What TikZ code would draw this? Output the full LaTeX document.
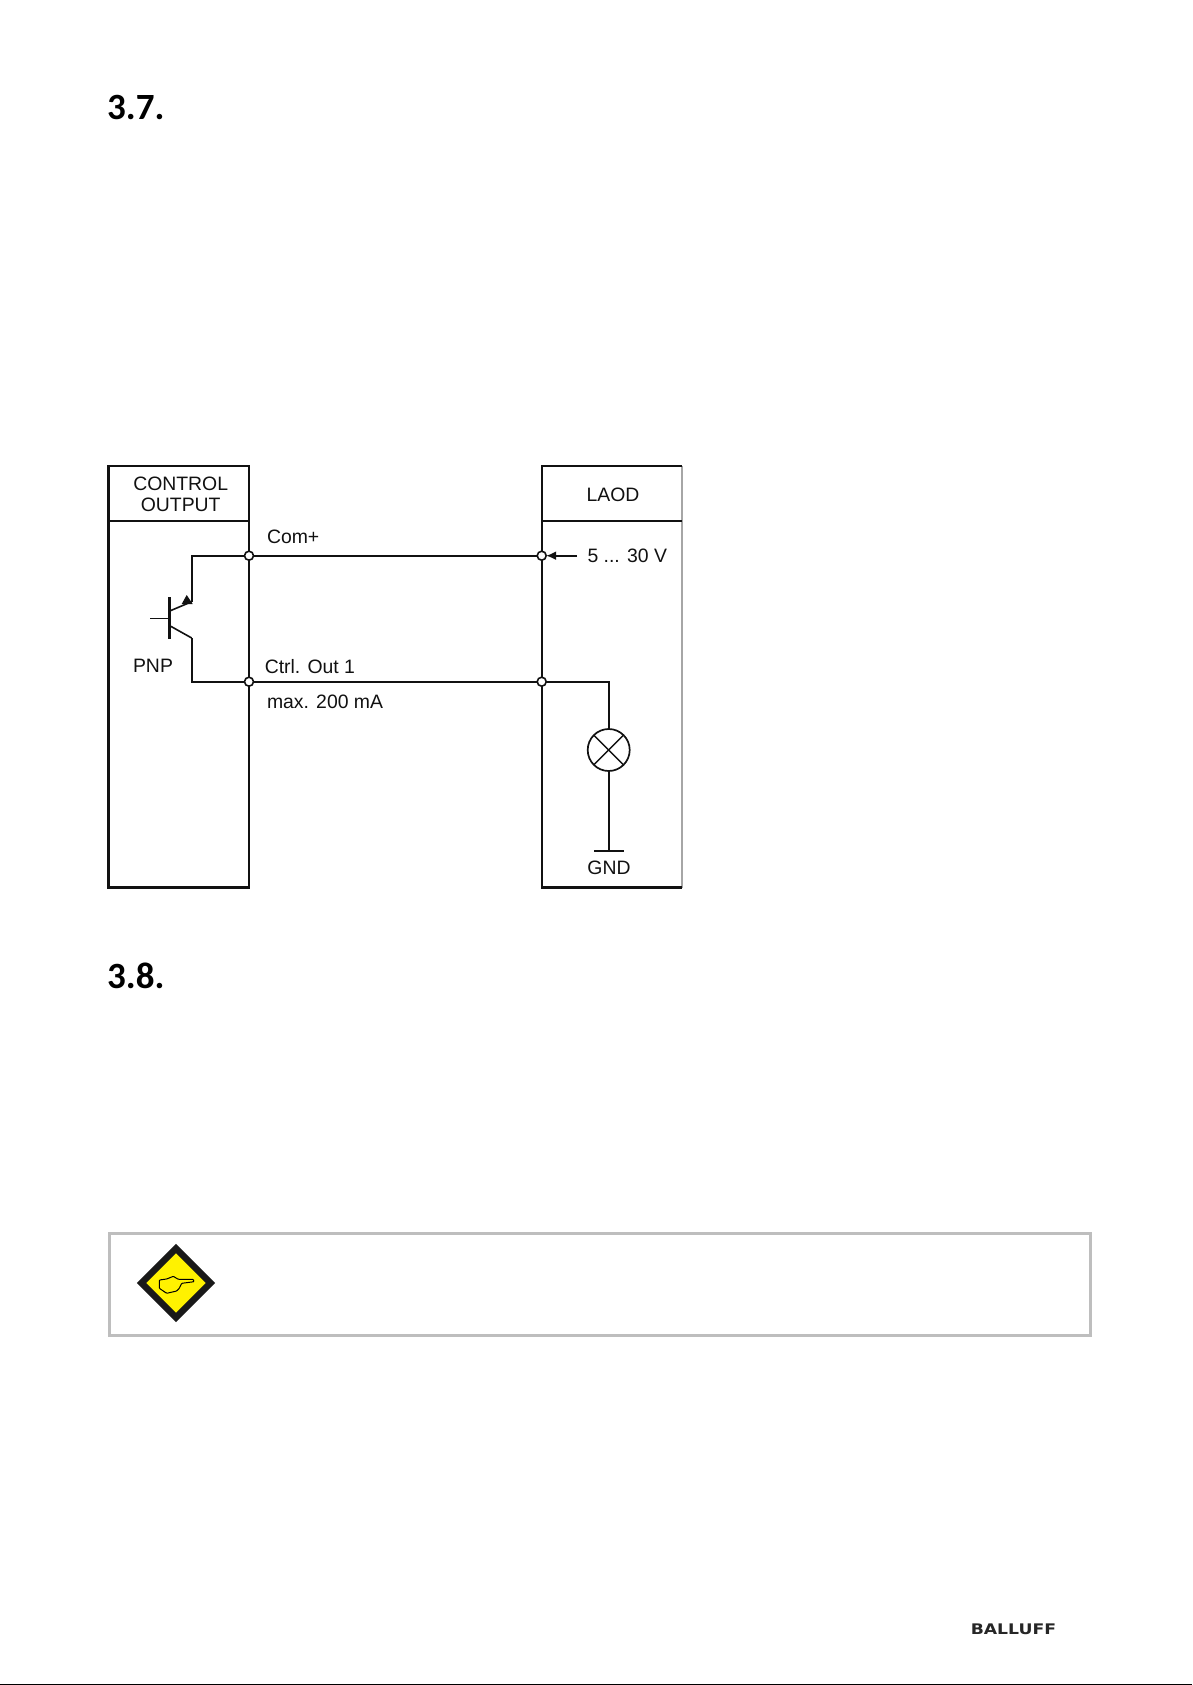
\documentclass[tikz,border=0pt]{standalone}
\usepackage{fontspec}
\setmainfont{Liberation Sans}
\newfontfamily\headfont{Carlito}
\newfontfamily\logofont{DejaVu Sans}
\usetikzlibrary{arrows.meta,shapes.geometric}
\definecolor{wirecol}{HTML}{111111}
\definecolor{notegray}{HTML}{BEBEBE}
\definecolor{noteyellow}{HTML}{FFF200}

\begin{document}
\begin{tikzpicture}[x=1pt,y=-1pt,
  wire/.style={draw=wirecol, line width=2.1pt},
  boxpart/.style={draw=wirecol, line width=2.1pt, anchor=north west, inner sep=0pt, outer sep=0pt},
  junction/.style={circle, draw=wirecol, fill=white, line width=1.6pt, minimum size=9pt, inner sep=0pt, outer sep=0pt},
  lbl/.style={font=\fontsize{19.4}{21.6}\selectfont, text=wirecol, inner sep=0pt, outer sep=0pt},
  heading/.style={font=\headfont\bfseries\fontsize{37}{37}\selectfont, anchor=base west, inner sep=0pt}]
\useasboundingbox (0,0) rectangle (1192,1685);

% section numbers
\node[heading] (head37) at (107,120) {3.7.};
\node[heading] (head38) at (107,988) {3.8.};

% control output box
\node[boxpart, minimum width=140.5pt, minimum height=421.5pt] (ctrlbox) at (108.5,466) {};
\node[boxpart, minimum width=140.5pt, minimum height=55pt] (ctrlhead) at (108.5,466) {};
\node[lbl, align=center] (ctrltitle) at (180.7,494.5) {CONTROL\\OUTPUT};

% load box
\draw[draw=gray!70, line width=1.8pt] (682,466) -- (682,887.5);
\draw[wire] (682,466) -- (541.7,466) -- (541.7,887.5) -- (682,887.5);
\draw[draw=wirecol, line width=1.6pt] (541.7,521) -- (682,521);
\node[lbl, anchor=base] (loadtitle) at (613,501) {LAOD};

% junctions
\node[junction] (comleft) at (249,555.7) {};
\node[junction] (comright) at (541.7,555.7) {};
\node[junction] (outleft) at (249,681.7) {};
\node[junction] (outright) at (541.7,681.7) {};

% main wires
\draw[wire] (comleft) -- (comright);
\draw[wire] (outleft) -- (outright);
\node[lbl, anchor=base west] (comlabel) at (267,543.3) {Com+};
\node[lbl, anchor=base west] (outlabel) at (264.8,673.3) {Ctrl. Out 1};
\node[lbl, anchor=base west] (maxlabel) at (267,708.3) {max. 200 mA};

% supply arrow
\node[lbl, anchor=base west] (supply) at (587.5,562.7) {5 ... 30 V};
\coordinate (supplyend) at (577,555.7);
\draw[line width=1.6pt, draw=wirecol, -{Latex[length=10pt,width=9pt]}] (supplyend) -- (comright);

% transistor
\coordinate (basein) at (150,618.7);
\coordinate (basebar) at (169.7,618.7);
\coordinate (bartop) at (169.7,597);
\coordinate (barbot) at (169.7,639);
\coordinate (emitbase) at (169.7,611);
\coordinate (emitknee) at (191.7,601.7);
\coordinate (collbase) at (169.7,625.7);
\coordinate (collknee) at (191.7,638);
\draw[draw=wirecol, line width=1.4pt] (basein) -- (basebar);
\draw[draw=wirecol, line width=3.4pt] (bartop) -- (barbot);
\draw[wire, line width=1.6pt] (emitbase) -- (emitknee);
\draw[wire, line width=1.6pt] (collbase) -- (collknee);
\draw[wire] (emitknee) -- (191.7,555.7) -- (comleft);
\draw[wire] (collknee) -- (191.7,681.7) -- (outleft);
\fill[wirecol] (186.7,595) -- (192.7,604) -- (181.7,604) -- cycle;
\node[lbl, anchor=base] (pnplabel) at (153,672.7) {PNP};

% lamp
\node[circle, draw=wirecol, line width=1.7pt, minimum size=42pt, inner sep=0pt, outer sep=0pt] (lamp) at (608.7,750) {};
\draw[draw=wirecol, line width=1.4pt] (lamp.45) -- (lamp.225);
\draw[draw=wirecol, line width=1.4pt] (lamp.135) -- (lamp.315);
\draw[wire] (outright) -- (608.7,681.7) -- (lamp.north);
\coordinate (gndmid) at (608.7,850.7);
\draw[wire] (lamp.south) -- (gndmid);
\draw[wire, line width=1.6pt] (594,850.7) -- (624,850.7);
\node[lbl, anchor=base] (gndlabel) at (609,874) {GND};

% note box
\node[draw=notegray, line width=3pt, anchor=north west, minimum width=981.2pt, minimum height=102pt, inner sep=0pt, outer sep=0pt] (notebox) at (109.5,1233.5) {};
\node[diamond, aspect=1, fill=noteyellow, draw=black!90, line width=6.5pt, minimum size=69pt, inner sep=0pt, outer sep=0pt] (notesign) at (176,1283) {};
\draw[line width=1pt, rounded corners=0.8pt] (159.3,1280) -- (166.7,1279) -- (173.3,1276.3) -- (178.3,1279.3) -- (193.3,1279.3) -- (194,1281.7) -- (181.7,1283.3) -- (179.3,1288.3) -- (176.7,1291) -- (166.7,1293.3) -- (159.3,1288.3) -- cycle;

% logo and page edge
\node[font=\logofont\bfseries\fontsize{14.6}{14.6}\selectfont, anchor=base west, inner sep=0pt, xscale=1.18, text=black!85] (logo) at (970.5,1634) {BALLUFF};
\draw[line width=1pt] (0,1684.5) -- (1192,1684.5);
\end{tikzpicture}
\end{document}
